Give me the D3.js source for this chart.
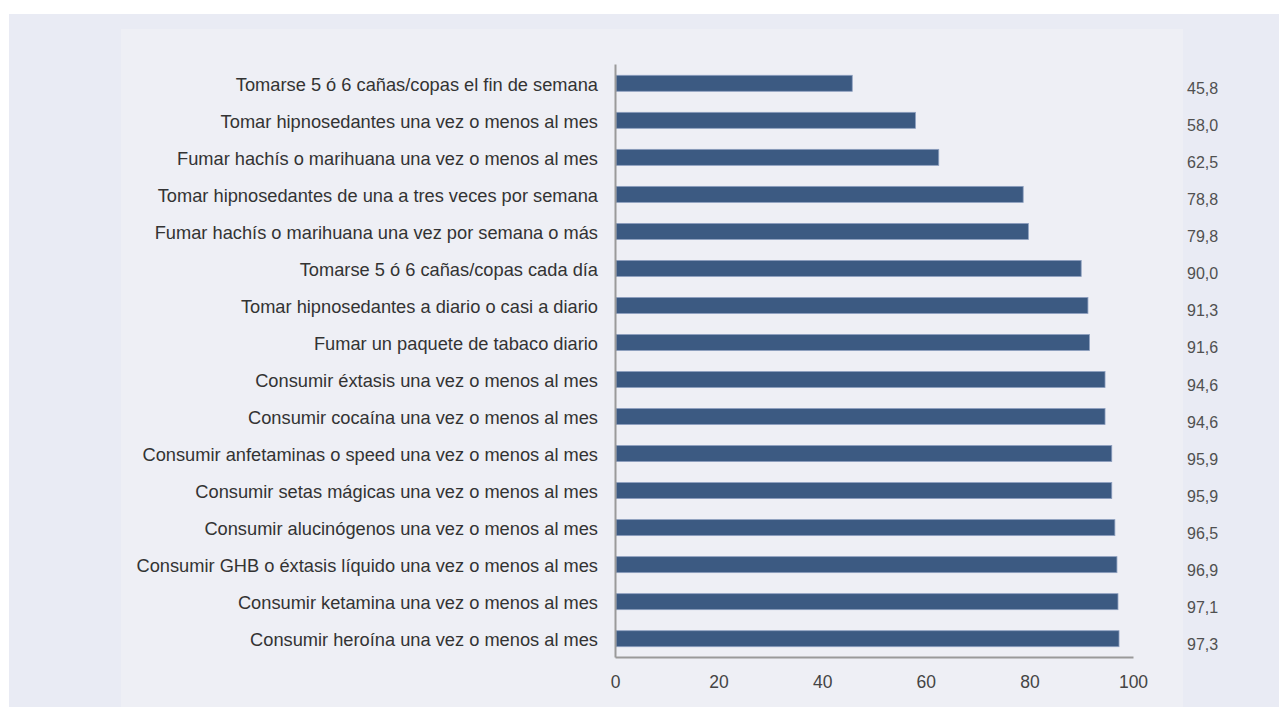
<!DOCTYPE html>
<html>
<head>
<meta charset="utf-8">
<script src="https://cdn.jsdelivr.net/npm/d3@7"></script>
<style>
  html, body { margin: 0; padding: 0; background: #ffffff; }
  svg { display: block; }
  text { font-family: "Liberation Sans", Arial, Helvetica, sans-serif; }
</style>
</head>
<body>
<svg id="chart" width="1279" height="707"></svg>
<script>
const categories = [
  "Tomarse 5 ó 6 cañas/copas el fin de semana",
  "Tomar hipnosedantes una vez o menos al mes",
  "Fumar hachís o marihuana una vez o menos al mes",
  "Tomar hipnosedantes de una a tres veces por semana",
  "Fumar hachís o marihuana una vez por semana o más",
  "Tomarse 5 ó 6 cañas/copas cada día",
  "Tomar hipnosedantes a diario o casi a diario",
  "Fumar un paquete de tabaco diario",
  "Consumir éxtasis una vez o menos al mes",
  "Consumir cocaína una vez o menos al mes",
  "Consumir anfetaminas o speed una vez o menos al mes",
  "Consumir setas mágicas una vez o menos al mes",
  "Consumir alucinógenos una vez o menos al mes",
  "Consumir GHB o éxtasis líquido una vez o menos al mes",
  "Consumir ketamina una vez o menos al mes",
  "Consumir heroína una vez o menos al mes"
];
const values = [45.8, 58.0, 62.5, 78.8, 79.8, 90.0, 91.3, 91.6, 94.6, 94.6, 95.9, 95.9, 96.5, 96.9, 97.1, 97.3];
const xTicks = [0, 20, 40, 60, 80, 100];

const svg = d3.select("#chart");

// background panels
svg.append("rect").attr("x", 9).attr("y", 14).attr("width", 1270).attr("height", 693).attr("fill", "#e9ebf4");
svg.append("rect").attr("x", 121).attr("y", 29).attr("width", 1062).attr("height", 678).attr("fill", "#eeeff5");

const x = d3.scaleLinear().domain([0, 100]).range([615, 1133]);
const y = d3.scalePoint().domain(categories).range([83.3, 638.7]);
const barH = 16;

// bars
svg.append("g").selectAll("rect")
  .data(categories)
  .join("rect")
  .attr("x", x(0) + 1)
  .attr("y", d => y(d) - barH / 2)
  .attr("width", (d, i) => x(values[i]) - x(0) - 1)
  .attr("height", barH)
  .attr("fill", "#3c5a82")
  .attr("stroke", "#8d9fbf")
  .attr("stroke-width", 0.8);

// category labels
svg.append("g").selectAll("text")
  .data(categories)
  .join("text")
  .attr("x", x(0) - 17)
  .attr("y", d => y(d) + 7.5)
  .attr("text-anchor", "end")
  .attr("font-size", 18.25)
  .attr("fill", "#333333")
  .text(d => d);

// value labels
const fmt = v => v.toFixed(1).replace(".", ",");
svg.append("g").selectAll("text")
  .data(values)
  .join("text")
  .attr("x", 1187)
  .attr("y", (d, i) => y(categories[i]) + 11)
  .attr("font-size", 16)
  .attr("fill", "#505050")
  .text(d => fmt(d));

// axes
const xAxis = d3.axisBottom(x).tickValues(xTicks).tickSize(0).tickPadding(19).tickFormat(d3.format("d"));
const gx = svg.append("g").attr("transform", "translate(0,657)").call(xAxis);
gx.select(".domain").attr("stroke", "#9a9a9a").attr("stroke-width", 2);
gx.selectAll("text").attr("font-size", 17.5).attr("fill", "#444444")
  .attr("font-family", "'Liberation Sans', Arial, sans-serif");

const yAxis = d3.axisLeft(d3.scaleLinear().range([64, 657])).tickValues([]).tickSizeOuter(0);
const gy = svg.append("g").attr("transform", "translate(615,0)").call(yAxis);
gy.select(".domain").attr("stroke", "#9a9a9a").attr("stroke-width", 2);
</script>
</body>
</html>
